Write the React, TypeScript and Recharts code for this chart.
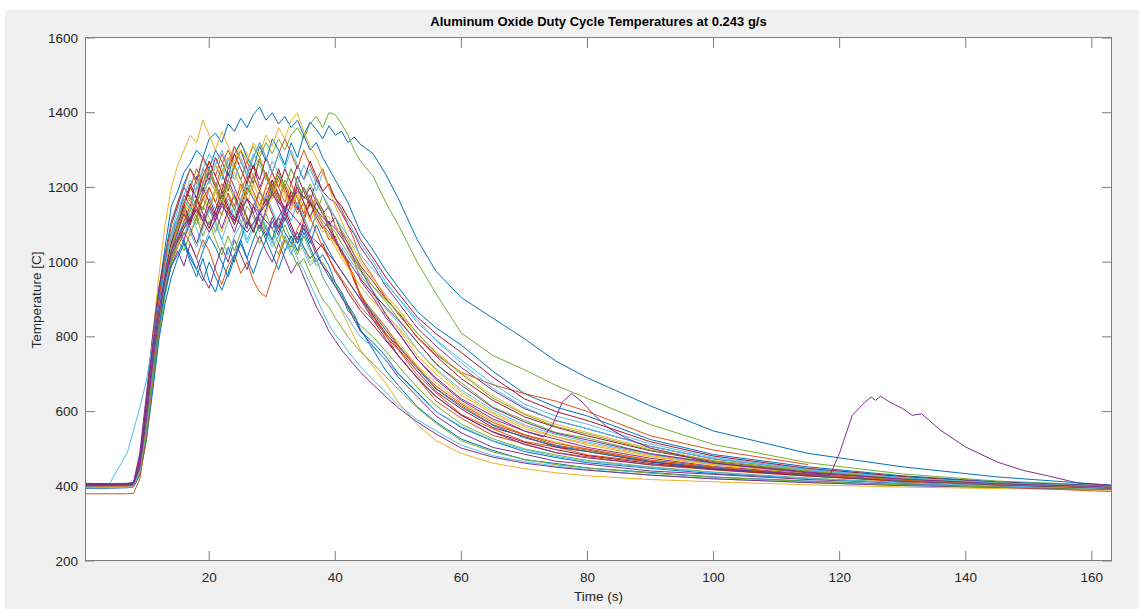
import { LineChart, Line, XAxis, YAxis } from 'recharts';

// shared sample times (s) for most runs
const timeGrid = [
  0.3, 4, 7, 8,
  9, 10, 11, 12, 13, 14,
  15, 16, 17, 18, 19, 20, 21, 22, 23, 24, 25, 26, 27, 28, 29, 30, 31, 32, 33, 34, 35, 36, 37, 38, 39, 40, 41, 42, 43, 44,
  46, 48, 50, 53, 56, 60, 65, 70, 75, 80, 90, 100, 115, 130, 145, 163,
];

// runs with their own sample times (the two purple re-heat bumps)
const bumpTimes = [
  0.3, 4, 7, 8, 9, 10, 11, 12, 13, 14,
  16, 18, 20, 22, 24, 26, 28, 30, 32, 34, 36, 38, 40, 42, 44,
  46, 48, 50, 53, 56, 60, 65, 70,
  73, 74.5, 76, 77.5, 79, 81, 83, 86, 90,
  100, 115, 130, 145, 163,
];
const lateTimes = [
  0.3, 4, 7, 8, 9, 10, 11, 12, 13, 14,
  16, 18, 20, 22, 24, 26, 28, 30, 32, 34, 36, 38, 40, 42, 44,
  46, 48, 50, 53, 56, 60, 65, 70, 75, 80, 90, 100, 110,
  118.5, 120, 122, 124, 125, 125.7, 126.5, 128, 130, 131.5, 133, 136, 140, 145, 149, 153, 158, 163,
];

const xTicks = [20, 40, 60, 80, 100, 120, 140, 160];
const yTicks = [200, 400, 600, 800, 1000, 1200, 1400, 1600];

// temperatures [C], one value per timeGrid entry
const run01 = [400, 401, 402, 404, 470, 600, 760, 920, 1040, 1150,
  1190, 1240, 1265, 1300, 1280, 1330, 1345, 1320, 1370, 1350, 1385, 1360, 1395, 1415, 1380, 1400, 1370, 1390, 1360, 1380,
  1340, 1375, 1355, 1330, 1365, 1340, 1350, 1320, 1335, 1315,
  1290, 1235, 1170, 1060, 975, 905, 850, 795, 735, 690, 615, 548, 488, 452, 425, 403];
const run02 = [395, 396, 397, 399, 450, 570, 720, 860, 960, 1040,
  1090, 1130, 1105, 1170, 1140, 1200, 1160, 1125, 1185, 1150, 1210, 1170, 1130, 1190, 1160, 1220, 1180, 1140, 1190, 1150,
  1120, 1160, 1130, 1100, 1080, 1050, 1035, 990, 965, 905,
  850, 806, 748, 690, 628, 582, 536, 514, 490, 479, 457, 444, 427, 415, 404, 396];
const run03 = [398, 399, 400, 401, 440, 540, 680, 820, 930, 1010,
  1060, 1100, 1070, 1120, 1090, 1140, 1110, 1080, 1130, 1100, 1150, 1115, 1080, 1120, 1090, 1060, 1100, 1050, 1070, 1030,
  1040, 1000, 1010, 960, 930, 900, 870, 835, 800, 765,
  720, 675, 625, 565, 522, 488, 462, 447, 436, 428, 418, 412, 404, 398, 394, 390];
const run04 = [405, 404, 405, 407, 480, 620, 780, 900, 1000, 1080,
  1120, 1180, 1150, 1230, 1190, 1250, 1210, 1170, 1240, 1200, 1160, 1220, 1260, 1200, 1240, 1180, 1230, 1190, 1150, 1210,
  1170, 1200, 1160, 1130, 1150, 1095, 1075, 1035, 1005, 950,
  905, 852, 812, 740, 690, 634, 588, 548, 526, 504, 475, 453, 434, 416, 407, 397];
const run05 = [402, 402, 403, 405, 430, 520, 660, 800, 910, 1000,
  1060, 1110, 1150, 1120, 1180, 1220, 1190, 1240, 1280, 1250, 1300, 1270, 1310, 1280, 1320, 1290, 1330, 1300, 1340, 1360,
  1330, 1370, 1390, 1360, 1400, 1395, 1370, 1340, 1300, 1270,
  1230, 1160, 1100, 1000, 915, 810, 750, 712, 670, 635, 565, 512, 463, 433, 414, 402];
const run06 = [397, 398, 399, 401, 455, 580, 740, 880, 980, 1050,
  1100, 1070, 1120, 1090, 1040, 1080, 1110, 1060, 1020, 1070, 1100, 1050, 1090, 1120, 1080, 1040, 1070, 1030, 1050, 1010,
  980, 942, 905, 868, 832, 806, 786, 762, 741, 720,
  685, 652, 618, 578, 548, 510, 482, 466, 454, 445, 430, 420, 410, 402, 397, 393];
const run07 = [403, 403, 404, 406, 460, 590, 740, 870, 970, 1060,
  1120, 1160, 1210, 1170, 1250, 1220, 1280, 1240, 1190, 1260, 1300, 1250, 1210, 1280, 1230, 1190, 1250, 1200, 1160, 1230,
  1190, 1150, 1170, 1140, 1100, 1120, 1080, 1050, 1020, 990,
  948, 902, 865, 798, 748, 688, 630, 586, 558, 535, 495, 466, 440, 421, 407, 398];
const run08 = [400, 399, 400, 402, 445, 560, 700, 840, 950, 1030,
  1080, 1050, 1000, 960, 1010, 950, 920, 980, 1040, 1000, 1060, 1110, 1080, 1140, 1090, 1060, 1120, 1080, 1050, 1080,
  1040, 1010, 1030, 990, 960, 935, 915, 870, 855, 815,
  785, 748, 702, 652, 600, 557, 521, 493, 477, 463, 448, 434, 421, 408, 401, 394];
const run09 = [401, 400, 401, 403, 440, 550, 690, 830, 930, 1000,
  1040, 1080, 1050, 1010, 1060, 1030, 980, 940, 990, 1020, 970, 1000, 950, 920, 907, 960, 1010, 1060, 1040, 1090,
  1120, 1080, 1130, 1100, 1060, 1070, 1020, 1000, 950, 915,
  858, 802, 765, 698, 650, 592, 554, 520, 505, 484, 465, 445, 429, 414, 405, 395];
const run10 = [396, 397, 398, 400, 470, 620, 800, 960, 1100, 1200,
  1260, 1300, 1340, 1320, 1380, 1340, 1300, 1350, 1310, 1270, 1320, 1290, 1250, 1280, 1230, 1200, 1240, 1190, 1150, 1180,
  1130, 1160, 1110, 1080, 1100, 1050, 1020, 990, 950, 910,
  866, 820, 786, 722, 677, 624, 576, 538, 519, 498, 471, 451, 430, 417, 404, 397];
const run11 = [408, 407, 408, 410, 490, 640, 800, 930, 1020, 1100,
  1150, 1200, 1170, 1130, 1190, 1240, 1200, 1160, 1220, 1180, 1140, 1100, 1150, 1190, 1150, 1210, 1170, 1130, 1180, 1140,
  1200, 1160, 1220, 1190, 1170, 1160, 1130, 1100, 1075, 1040,
  992, 936, 892, 824, 775, 718, 657, 608, 576, 554, 507, 473, 444, 423, 409, 398];
const run12 = [399, 399, 400, 402, 435, 530, 670, 810, 920, 1000,
  1050, 1090, 1130, 1100, 1150, 1120, 1080, 1130, 1170, 1140, 1100, 1150, 1120, 1080, 1130, 1090, 1050, 1100, 1060, 1020,
  1070, 1030, 990, 1000, 970, 945, 905, 885, 850, 830,
  800, 762, 722, 665, 616, 566, 527, 500, 484, 469, 452, 438, 422, 410, 400, 394];
const run13 = [396, 396, 398, 400, 450, 575, 730, 880, 990, 1080,
  1140, 1180, 1220, 1190, 1250, 1290, 1260, 1220, 1270, 1310, 1280, 1240, 1290, 1260, 1220, 1270, 1240, 1200, 1250, 1210,
  1260, 1230, 1190, 1240, 1200, 1170, 1140, 1110, 1080, 1050,
  1002, 948, 903, 838, 792, 738, 674, 620, 588, 566, 513, 477, 446, 425, 410, 399];
const run14 = [402, 401, 402, 404, 455, 585, 735, 860, 960, 1040,
  1090, 1140, 1100, 1160, 1200, 1160, 1120, 1180, 1140, 1100, 1150, 1200, 1170, 1130, 1180, 1220, 1180, 1140, 1190, 1150,
  1110, 1160, 1120, 1090, 1110, 1060, 1025, 1000, 950, 910,
  856, 810, 768, 708, 653, 607, 557, 533, 505, 493, 465, 448, 430, 415, 405, 396];
const run15 = [399, 400, 401, 403, 465, 610, 770, 910, 1020, 1110,
  1160, 1210, 1250, 1220, 1280, 1250, 1300, 1270, 1230, 1290, 1320, 1280, 1250, 1310, 1270, 1330, 1300, 1260, 1320, 1280,
  1340, 1300, 1320, 1280, 1250, 1220, 1190, 1160, 1120, 1080,
  1032, 978, 932, 868, 824, 778, 708, 648, 612, 588, 525, 485, 452, 428, 412, 401];
const run16 = [404, 404, 405, 407, 470, 600, 750, 880, 980, 1060,
  1110, 1160, 1200, 1250, 1210, 1270, 1230, 1290, 1250, 1310, 1270, 1230, 1280, 1320, 1280, 1240, 1290, 1330, 1290, 1250,
  1300, 1260, 1220, 1250, 1200, 1170, 1140, 1100, 1060, 1010,
  960, 905, 860, 800, 752, 705, 672, 648, 628, 600, 535, 497, 458, null, null, null];
const run17 = [397, 397, 398, 400, 445, 565, 715, 850, 955, 1030,
  1080, 1120, 1160, 1130, 1180, 1150, 1200, 1170, 1130, 1190, 1160, 1210, 1180, 1140, 1200, 1170, 1220, 1190, 1150, 1200,
  1160, 1120, 1170, 1130, 1120, 1100, 1070, 1040, 1000, 960,
  912, 862, 822, 750, 700, 644, 594, 554, 532, 511, 479, 457, 435, 418, 407, 397];
const run18 = [406, 405, 406, 408, 470, 610, 760, 880, 970, 1040,
  1090, 1060, 1110, 1150, 1110, 1170, 1130, 1090, 1140, 1180, 1130, 1090, 1150, 1110, 1070, 1120, 1080, 1130, 1090, 1050,
  1100, 1060, 1020, 990, 970, 935, 905, 880, 845, 815,
  775, 738, 692, 640, 588, 543, 504, 486, 467, 459, 441, 432, 418, 409, 400, 393];
const run19 = [401, 401, 402, 404, 440, 540, 680, 820, 930, 1010,
  1060, 1100, 1140, 1110, 1170, 1140, 1190, 1160, 1210, 1170, 1140, 1190, 1230, 1190, 1150, 1200, 1170, 1220, 1190, 1150,
  1200, 1170, 1130, 1180, 1140, 1120, 1085, 1060, 1020, 985,
  934, 894, 848, 787, 726, 677, 612, 577, 544, 529, 487, 464, 438, 420, 407, 397];
const run20 = [398, 401, 490, 550, 610, 680, 780, 890, 980, 1060,
  1110, 1150, 1120, 1170, 1210, 1180, 1140, 1190, 1160, 1120, 1170, 1210, 1170, 1130, 1180, 1140, 1100, 1150, 1110, 1160,
  1120, 1080, 1130, 1100, 1080, 1060, 1040, 1015, 990, 965,
  922, 876, 837, 766, 714, 658, 604, 564, 539, 519, 485, 459, 437, 419, 406, 396];
const run21 = [403, 402, 403, 405, 450, 570, 720, 860, 960, 1050,
  1100, 1150, 1200, 1170, 1230, 1270, 1230, 1190, 1250, 1290, 1250, 1210, 1260, 1220, 1280, 1240, 1200, 1250, 1210, 1260,
  1220, 1270, 1230, 1190, 1210, 1170, 1150, 1120, 1095, 1060,
  1012, 960, 917, 853, 808, 758, 692, 634, 600, 576, 519, 481, 448, 426, 410, 400];
const run22 = [395, 395, 396, 398, 430, 520, 650, 790, 890, 960,
  1010, 1050, 1020, 980, 1030, 1070, 1040, 1000, 960, 1010, 1050, 1010, 970, 1020, 1060, 1020, 980, 1030, 1070, 1030,
  1080, 1040, 1000, 1020, 990, 945, 920, 885, 860, 820,
  765, 710, 670, 613, 572, 526, 496, 471, 461, 449, 437, 425, 414, 405, 399, 393];
const run23 = [380, 380, 380, 381, 420, 530, 680, 820, 930, 1010,
  1060, 1110, 1150, 1120, 1170, 1200, 1160, 1210, 1180, 1140, 1190, 1230, 1190, 1150, 1200, 1240, 1200, 1160, 1210, 1170,
  1130, 1180, 1140, 1110, 1090, 1055, 1030, 995, 955, 910,
  868, 827, 778, 720, 662, 616, 565, 537, 510, 497, 467, 449, 428, 412, 398, 386];
const run24 = [399, 400, 401, 402, 450, 575, 730, 870, 980, 1070,
  1120, 1170, 1140, 1200, 1240, 1210, 1260, 1230, 1280, 1250, 1300, 1270, 1320, 1290, 1340, 1310, 1360, 1330, 1380, 1398,
  1350, 1310, 1280, 1240, 1200, 1150, 1110, 1070, 1035, 1000,
  956, 912, 874, 810, 760, 703, 642, 595, 566, 544, 501, 469, 442, 422, 408, 398];
const run25 = [407, 406, 407, 409, 455, 580, 730, 850, 930, 990,
  1030, 990, 1050, 1010, 960, 930, 990, 1040, 1000, 1060, 1020, 980, 1030, 1070, 1030, 1000, 1050, 1010, 970, 1000,
  960, 920, 880, 850, 815, 790, 765, 745, 725, 705,
  672, 640, 610, 572, 540, 502, 478, 462, 451, 443, 430, 420, 410, 402, 397, 392];
const run26 = [400, 401, 401, 403, 445, 560, 700, 830, 930, 1010,
  1060, 1030, 1080, 1120, 1070, 1110, 1060, 1020, 1070, 1030, 1080, 1120, 1090, 1050, 1100, 1060, 1020, 1070, 1030, 990,
  1010, 970, 935, 900, 880, 850, 826, 800, 780, 760,
  728, 694, 660, 610, 568, 522, 492, 472, 458, 449, 435, 424, 413, 404, 398, 393];
const run27 = [398, 398, 399, 401, 440, 545, 690, 830, 940, 1020,
  1070, 1110, 1080, 1040, 1090, 1140, 1100, 1060, 1110, 1150, 1110, 1060, 1100, 1140, 1090, 1050, 1100, 1060, 1020, 1070,
  1030, 990, 1010, 960, 930, 900, 875, 850, 825, 800,
  772, 738, 700, 648, 600, 560, 522, 498, 480, 467, 450, 437, 421, 409, 401, 394];
const run28 = [404, 403, 404, 406, 470, 610, 770, 890, 980, 1050,
  1100, 1150, 1110, 1170, 1130, 1090, 1140, 1190, 1150, 1110, 1160, 1120, 1080, 1130, 1170, 1130, 1090, 1140, 1100, 1060,
  1110, 1070, 1030, 1050, 1010, 975, 950, 920, 895, 870,
  832, 790, 750, 690, 640, 590, 546, 518, 498, 482, 461, 445, 428, 414, 404, 395];
const run29 = [401, 400, 401, 403, 450, 560, 700, 830, 920, 990,
  1020, 1060, 1010, 980, 950, 1000, 960, 925, 970, 1020, 1060, 1010, 1060, 1100, 1060, 1110, 1070, 1120, 1080, 1050,
  1090, 1050, 1100, 1060, 1030, 1000, 975, 950, 925, 900,
  862, 818, 775, 715, 660, 612, 563, 530, 508, 493, 466, 449, 430, 415, 404, 396];
const run30 = [399, 399, 400, 402, 460, 600, 760, 900, 1010, 1100,
  1160, 1200, 1250, 1210, 1280, 1240, 1200, 1260, 1300, 1260, 1220, 1270, 1230, 1190, 1240, 1200, 1160, 1210, 1170, 1130,
  1160, 1120, 1080, 1040, 1010, 980, 955, 930, 905, 880,
  845, 808, 774, 716, 668, 620, 571, 538, 515, 500, 470, 452, 431, 416, 405, 396];
const run31 = [397, 398, 398, 400, 445, 560, 710, 850, 960, 1040,
  1090, 1130, 1170, 1140, 1100, 1150, 1190, 1150, 1200, 1240, 1200, 1160, 1210, 1170, 1130, 1180, 1220, 1180, 1140, 1190,
  1150, 1110, 1140, 1100, 1070, 1040, 1010, 985, 960, 935,
  895, 860, 825, 765, 710, 652, 598, 560, 533, 515, 482, 458, 436, 419, 407, 397];
const run32 = [406, 406, 407, 409, 475, 615, 765, 880, 960, 1030,
  1080, 1130, 1090, 1050, 1100, 1150, 1110, 1160, 1120, 1080, 1130, 1170, 1130, 1090, 1140, 1190, 1150, 1110, 1160, 1200,
  1160, 1120, 1160, 1130, 1090, 1060, 1030, 1005, 980, 955,
  915, 880, 845, 786, 728, 670, 610, 572, 542, 524, 487, 462, 438, 420, 408, 398];
const run33 = [402, 403, 403, 405, 445, 555, 700, 840, 950, 1040,
  1100, 1140, 1180, 1150, 1210, 1250, 1210, 1170, 1220, 1260, 1220, 1180, 1230, 1270, 1230, 1190, 1240, 1200, 1250, 1210,
  1170, 1210, 1170, 1130, 1100, 1080, 1050, 1025, 1000, 975,
  935, 900, 866, 810, 756, 700, 636, 592, 560, 540, 497, 468, 441, 422, 409, 399];
const run34 = [396, 397, 397, 399, 455, 580, 735, 875, 985, 1070,
  1120, 1170, 1140, 1200, 1250, 1210, 1260, 1300, 1260, 1220, 1270, 1230, 1280, 1320, 1280, 1240, 1290, 1250, 1300, 1260,
  1220, 1250, 1210, 1180, 1150, 1120, 1095, 1070, 1045, 1020,
  980, 942, 905, 846, 790, 730, 662, 612, 575, 554, 506, 474, 444, 423, 409, 399];

// one value per bumpTimes / lateTimes entry
const runBump77 = [405, 405, 406, 408, 460, 590, 740, 870, 960, 1030,
  1100, 1140, 1080, 1150, 1110, 1170, 1130, 1180, 1140, 1190, 1160, 1120, 1090, 1040, 980,
  920, 860, 810, 740, 685, 630, 580, 548,
  532, 565, 625, 648, 628, 592, 560, 530, 502,
  462, 436, 419, 407, 398];
const runLate = [402, 402, 403, 405, 450, 575, 720, 850, 950, 1020,
  1090, 1140, 1100, 1160, 1120, 1080, 1130, 1090, 1150, 1110, 1070, 1040, 1000, 950, 900,
  845, 795, 750, 690, 640, 590, 545, 512, 490, 476, 458, 446, 437,
  430, 490, 590, 625, 639, 630, 641, 625, 608, 590, 594, 550, 505, 465, 443, 428, 408, 403];

const matlabColors = ['#0072BD', '#D95319', '#EDB120', '#7E2F8E', '#77AC30', '#4DBEEE', '#A2142F'];

const runs = [
  run01, run02, run03, run04, run05, run06, run07, run08, run09, run10, run11, run12,
  run13, run14, run15, run16, run17, run18, run19, run20, run21, run22, run23, run24,
  run25, run26, run27, run28, run29, run30, run31, run32, run33, run34,
];

const toRows = (times: number[], temps: (number | null)[]) =>
  times.map((time, i) => ({ time, temp: temps[i] }));

const series = [
  ...runs.map((temps, i) => ({ id: `run${i + 1}`, rows: toRows(timeGrid, temps), color: matlabColors[i % 7] })),
  { id: 'bump77', rows: toRows(bumpTimes, runBump77), color: '#7E2F8E' },
  { id: 'late', rows: toRows(lateTimes, runLate), color: '#7E2F8E' },
];

const W = 1139;
const H = 609;
const PLOT = { left: 85, top: 38, right: 1112, bottom: 561 };
const axisColor = '#7d7d7d';
const textColor = '#262626';
const font = 'Helvetica, Arial, "Liberation Sans", sans-serif';

const XTick = ({ x, payload }: any) => (
  <g>
    <line x1={x} x2={x} y1={PLOT.bottom} y2={PLOT.bottom - 10} stroke={axisColor} />
    <line x1={x} x2={x} y1={PLOT.top} y2={PLOT.top + 10} stroke={axisColor} />
    <text x={x} y={PLOT.bottom + 16} textAnchor="middle" dominantBaseline="central"
      fontSize={13.5} fill={textColor} fontFamily={font}>
      {payload.value}
    </text>
  </g>
);

const YTick = ({ y, payload }: any) => (
  <g>
    <line x1={PLOT.left} x2={PLOT.left + 10} y1={y} y2={y} stroke={axisColor} />
    <line x1={PLOT.right} x2={PLOT.right - 10} y1={y} y2={y} stroke={axisColor} />
    <text x={PLOT.left - 7} y={y} textAnchor="end" dominantBaseline="central"
      fontSize={13.5} fill={textColor} fontFamily={font}>
      {payload.value}
    </text>
  </g>
);

export default function App() {
  return (
    <div style={{ position: 'absolute', left: 0, top: 0, width: W, height: H, background: '#fff', fontFamily: font }}>
      <div style={{ position: 'absolute', left: 5, top: 10, right: 0, bottom: 0, background: '#f0f0f0' }} />
      <div style={{
        position: 'absolute', left: PLOT.left, top: PLOT.top,
        width: PLOT.right - PLOT.left, height: PLOT.bottom - PLOT.top, background: '#fff',
      }} />
      <div style={{ position: 'absolute', left: 0, top: 0 }}>
        <LineChart width={W} height={H} margin={{ top: PLOT.top, right: W - PLOT.right, bottom: 18, left: 25 }}>
          <XAxis dataKey="time" type="number" domain={[0.3, 163.2]} allowDataOverflow ticks={xTicks}
            height={30} axisLine={false} tickLine={false} tick={<XTick />} />
          <YAxis type="number" domain={[200, 1600]} allowDataOverflow ticks={yTicks}
            width={60} axisLine={false} tickLine={false} tick={<YTick />} />
          {series.map((s) => (
            <Line key={s.id} data={s.rows} dataKey="temp" type="linear" stroke={s.color}
              strokeWidth={1} dot={false} activeDot={false} isAnimationActive={false} />
          ))}
        </LineChart>
      </div>
      <div style={{
        position: 'absolute', left: PLOT.left, top: PLOT.top - 1, width: PLOT.right - PLOT.left,
        height: PLOT.bottom - PLOT.top + 1, border: `1px solid ${axisColor}`, boxSizing: 'border-box', pointerEvents: 'none',
      }} />
      <div style={{
        position: 'absolute', left: PLOT.left, width: PLOT.right - PLOT.left, top: 14, textAlign: 'center',
        fontSize: 13, fontWeight: 'bold', color: '#000',
      }}>
        Aluminum Oxide Duty Cycle Temperatures at 0.243 g/s
      </div>
      <div style={{
        position: 'absolute', left: PLOT.left, width: PLOT.right - PLOT.left, top: 589, textAlign: 'center',
        fontSize: 13.5, color: textColor,
      }}>
        Time (s)
      </div>
      <div style={{
        position: 'absolute', left: 36, top: (PLOT.top + PLOT.bottom) / 2, transform: 'translate(-50%, -50%) rotate(-90deg)',
        fontSize: 13.5, color: textColor, whiteSpace: 'nowrap',
      }}>
        Temperature [C]
      </div>
    </div>
  );
}
